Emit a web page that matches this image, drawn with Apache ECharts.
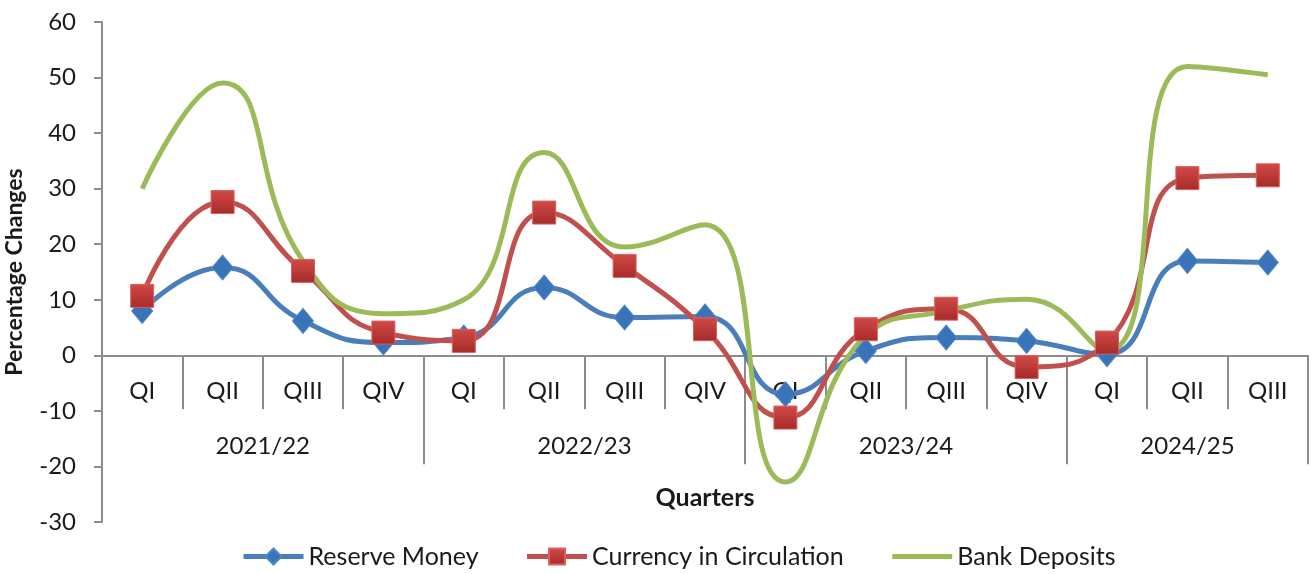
<!DOCTYPE html>
<html>
<head>
<meta charset="utf-8">
<script src="https://cdn.jsdelivr.net/npm/echarts@6/dist/echarts.min.js"></script>
<style>
  html, body { margin: 0; padding: 0; background: #fff; }
  #chart { width: 1314px; height: 574px; }
</style>
</head>
<body>
<div id="chart"></div>
<script>
  // quarters on the category axis
  var quarters = ['QI', 'QII', 'QIII', 'QIV', 'QI', 'QII', 'QIII', 'QIV', 'QI', 'QII', 'QIII', 'QIV', 'QI', 'QII', 'QIII'];
  // fiscal years and how many quarters each one spans
  var years = ['2021/22', '2022/23', '2023/24', '2024/25'];
  var yearSpans = [4, 4, 4, 3];

  var reserveMoney = [8.0, 15.8, 6.2, 2.3, 3.2, 12.2, 6.8, 7.0, -7.0, 0.8, 3.2, 2.6, 0.2, 17.0, 16.7];
  var currency = [10.7, 27.6, 15.2, 4.1, 2.6, 25.7, 16.1, 4.7, -11.2, 4.7, 8.4, -2.1, 2.3, 31.9, 32.4];
  var bankDeposits = [30.0, 49.0, 17.0, 7.5, 10.0, 36.5, 19.5, 23.5, -22.8, 3.5, 8.0, 10.1, 0.8, 52.0, 50.5];

  // year boundaries / centres along the quarter scale
  var yearEdges = [0];
  var yearMids = [];
  for (var i = 0; i < yearSpans.length; i++) {
    var start = yearEdges[yearEdges.length - 1];
    yearMids.push(start + yearSpans[i] / 2);
    yearEdges.push(start + yearSpans[i]);
  }

  var font = 'Lato, "Open Sans", sans-serif';
  var gray = '#8c8c8c';
  var ink = '#1a1a1a';
  var yMin = -30, yMax = 60, yStep = 10;

  var gridTop = 22, gridBottom = 52, H = 574;
  var gridH = H - gridTop - gridBottom;
  // lift the x axes from the grid bottom up to the zero line
  var zeroOffset = -(0 - yMin) / (yMax - yMin) * gridH;

  var chart = echarts.init(document.getElementById('chart'));
  var option = {
    animation: false,
    textStyle: { fontFamily: font },
    grid: { left: 102, right: 6, top: gridTop, bottom: gridBottom, containLabel: false, outerBoundsMode: 'none' },
    legend: {
      top: 539,
      left: 236,
      itemWidth: 60,
      itemHeight: 20,
      itemGap: 46,
      lineStyle: { width: 5 },
      textStyle: { fontSize: 25, color: ink, fontFamily: font },
      data: [
        'Reserve Money',
        'Currency in Circulation',
        { name: 'Bank Deposits', itemStyle: { opacity: 0 } }
      ]
    },
    xAxis: [
      {
        type: 'category',
        data: quarters,
        boundaryGap: true,
        position: 'bottom',
        offset: zeroOffset,
        axisLine: { onZero: false, lineStyle: { color: gray, width: 2 } },
        axisTick: { show: true, interval: 0, length: 54, lineStyle: { color: gray, width: 2 } },
        axisLabel: { interval: 0, margin: 24, fontSize: 24, color: ink, fontFamily: font },
        splitLine: { show: false }
      },
      {
        type: 'value',
        min: 0,
        max: 15,
        position: 'bottom',
        offset: zeroOffset,
        axisLine: { show: false, onZero: false },
        splitLine: { show: false },
        axisTick: { show: true, length: 109, customValues: yearEdges, lineStyle: { color: gray, width: 2 } },
        axisLabel: {
          customValues: yearMids,
          margin: 79,
          fontSize: 24,
          color: ink,
          fontFamily: font,
          formatter: function (v) {
            var idx = yearMids.indexOf(v);
            return idx >= 0 ? years[idx] : '';
          }
        },
        name: 'Quarters',
        nameLocation: 'middle',
        nameGap: 130,
        nameTextStyle: { fontSize: 25, fontWeight: 'bold', color: ink, fontFamily: font }
      }
    ],
    yAxis: {
      type: 'value',
      min: yMin,
      max: yMax,
      interval: yStep,
      name: 'Percentage Changes',
      nameLocation: 'middle',
      nameGap: 76,
      nameTextStyle: { fontSize: 23, fontWeight: 'bold', color: ink, fontFamily: font },
      axisLine: { show: true, onZero: false, lineStyle: { color: gray, width: 2 } },
      axisTick: { show: true, length: 8, lineStyle: { color: gray, width: 2 } },
      axisLabel: { margin: 26, fontSize: 24, color: ink, fontFamily: font },
      splitLine: { show: false }
    },
    series: [
      {
        name: 'Reserve Money',
        type: 'line',
        xAxisIndex: 0,
        data: reserveMoney,
        smooth: true,
        symbol: 'diamond',
        symbolSize: [21, 25],
        lineStyle: { color: '#4a7ebb', width: 5 },
        itemStyle: { color: '#3a74b8', borderColor: '#4f86c6', borderWidth: 1 }
      },
      {
        name: 'Currency in Circulation',
        type: 'line',
        xAxisIndex: 0,
        data: currency,
        smooth: true,
        symbol: 'rect',
        symbolSize: 23,
        lineStyle: { color: '#c0504d', width: 5 },
        itemStyle: {
          color: new echarts.graphic.LinearGradient(0, 0, 0, 1, [
            { offset: 0, color: '#d24a47' },
            { offset: 1, color: '#a52b29' }
          ]),
          borderColor: '#d9605d',
          borderWidth: 1
        }
      },
      {
        name: 'Bank Deposits',
        type: 'line',
        xAxisIndex: 0,
        data: bankDeposits,
        smooth: true,
        symbol: 'none',
        lineStyle: { color: '#9bbb59', width: 5 },
        itemStyle: { color: '#9bbb59' }
      }
    ]
  };
  chart.setOption(option);
</script>
</body>
</html>
